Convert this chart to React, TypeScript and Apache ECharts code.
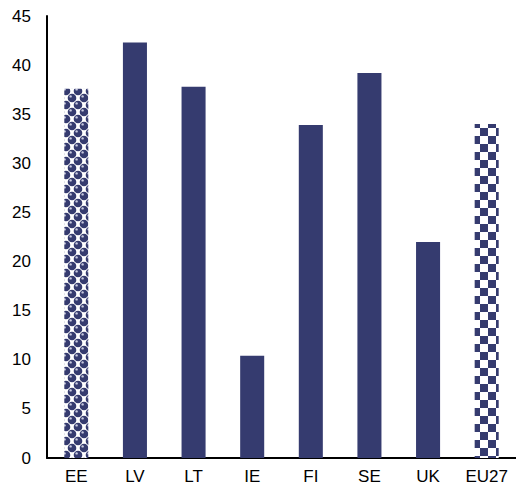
import * as echarts from "echarts";
import { useEffect, useRef } from "react";

// categories and values
const countries = ["EE", "LV", "LT", "IE", "FI", "SE", "UK", "EU27"];
const shares = [37.6, 42.3, 37.8, 10.4, 33.9, 39.2, 22.0, 34.0];
const yTicks = [0, 5, 10, 15, 20, 25, 30, 35, 40, 45];

const NAVY = "#353b6f";
const FONT = "Liberation Sans, Arial, sans-serif";

// circles pattern (EE)
const circlePattern = () => {
  const c = document.createElement("canvas");
  c.width = 12;
  c.height = 14;
  const ctx = c.getContext("2d")!;
  ctx.fillStyle = "#fff";
  ctx.fillRect(0, 0, 12, 14);
  const pts = [
    [0, 0],
    [12, 0],
    [0, 14],
    [12, 14],
    [6, 7],
  ];
  pts.forEach(([x, y]) => {
    ctx.beginPath();
    ctx.arc(x, y, 4.3, 0, Math.PI * 2);
    ctx.fillStyle = NAVY;
    ctx.fill();
    ctx.beginPath();
    ctx.arc(x - 1.4, y - 1.6, 1.2, 0, Math.PI * 2);
    ctx.fillStyle = "#c9cbe0";
    ctx.fill();
  });
  return c;
};

// checkerboard pattern (EU27)
const checkerPattern = () => {
  const c = document.createElement("canvas");
  c.width = 16;
  c.height = 16;
  const ctx = c.getContext("2d")!;
  ctx.fillStyle = "#fff";
  ctx.fillRect(0, 0, 16, 16);
  ctx.fillStyle = NAVY;
  ctx.fillRect(0, 0, 8, 8);
  ctx.fillRect(8, 8, 8, 8);
  return c;
};

export default function App() {
  const ref = useRef<HTMLDivElement>(null);

  useEffect(() => {
    if (!ref.current) return;
    const chart = echarts.init(ref.current, undefined, { renderer: "svg" });
    const dots = { image: circlePattern(), repeat: "repeat" };
    const checks = { image: checkerPattern(), repeat: "repeat" };

    chart.setOption({
      animation: false,
      grid: { left: 47, right: -2, top: 16, bottom: 32 },
      xAxis: {
        type: "category",
        data: countries,
        axisLine: { lineStyle: { color: "#000", width: 2 } },
        axisTick: { show: false },
        axisLabel: { color: "#000", fontSize: 17, fontFamily: FONT, margin: 10 },
      },
      yAxis: {
        type: "value",
        min: yTicks[0],
        max: yTicks[yTicks.length - 1],
        interval: 5,
        axisLine: { show: true, lineStyle: { color: "#000", width: 2 } },
        axisTick: { show: false },
        splitLine: { show: false },
        axisLabel: { color: "#000", fontSize: 17, fontFamily: FONT, margin: 16 },
      },
      series: [
        {
          type: "bar",
          barWidth: "41%",
          data: shares.map((v, i) => ({
            value: v,
            itemStyle: {
              color: i === 0 ? dots : i === countries.length - 1 ? checks : NAVY,
            },
          })),
        },
      ],
    });

    return () => chart.dispose();
  }, []);

  return (
    <div
      ref={ref}
      style={{ position: "absolute", left: 0, top: 0, width: 516, height: 490 }}
    />
  );
}
